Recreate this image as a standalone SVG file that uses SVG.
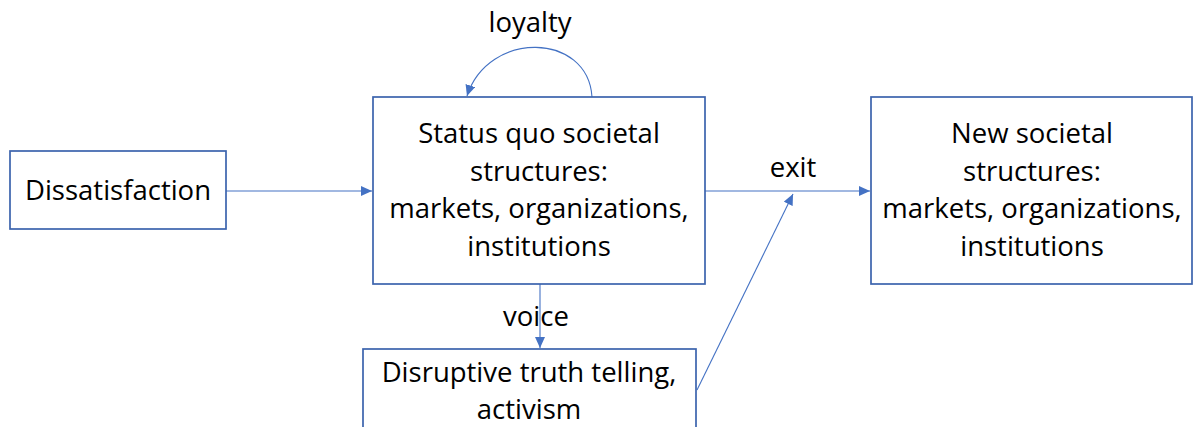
<svg xmlns="http://www.w3.org/2000/svg" width="1195" height="427" viewBox="0 0 1195 427">
  <style>
    .box { fill: #ffffff; stroke: #3b63ad; stroke-width: 1.7; }
    .lbl { font-family: "Open Sans", "Liberation Sans", sans-serif; font-size: 27.5px; fill: #000000; text-anchor: middle; }
    .link { fill: none; stroke: #4472c4; stroke-width: 1.1; }
  </style>
  <defs>
    <marker id="arrow" markerUnits="userSpaceOnUse" markerWidth="12" markerHeight="10" refX="11" refY="5" orient="auto">
      <path d="M0,0 L11,5 L0,10 Z" fill="#4472c4"/>
    </marker>
  </defs>

  <rect width="1195" height="427" fill="#ffffff"/>

  <!-- connectors -->
  <g id="connectors">
    <line class="link" x1="226" y1="191" x2="372" y2="191" marker-end="url(#arrow)"/>
    <line class="link" x1="705" y1="191" x2="870" y2="191" marker-end="url(#arrow)"/>
    <line class="link" x1="540" y1="284" x2="540" y2="348" marker-end="url(#arrow)"/>
    <line class="link" x1="697" y1="390" x2="793" y2="194" marker-end="url(#arrow)"/>
    <path class="link" d="M592,97 C588,32 488,30 467,96" marker-end="url(#arrow)"/>
    <text class="lbl" x="530" y="32">loyalty</text>
    <text class="lbl" x="793" y="177">exit</text>
    <text class="lbl" x="536" y="326">voice</text>
  </g>

  <!-- nodes -->
  <g id="dissatisfaction">
    <rect class="box" x="10" y="151" width="216" height="78"/>
    <text class="lbl" x="118" y="200">Dissatisfaction</text>
  </g>

  <g id="status-quo">
    <rect class="box" x="373" y="97" width="332" height="187"/>
    <text class="lbl" x="539" y="143">Status quo societal</text>
    <text class="lbl" x="539" y="181">structures:</text>
    <text class="lbl" x="539" y="218">markets, organizations,</text>
    <text class="lbl" x="539" y="256">institutions</text>
  </g>

  <g id="new-structures">
    <rect class="box" x="871" y="97" width="321" height="187"/>
    <text class="lbl" x="1032" y="143">New societal</text>
    <text class="lbl" x="1032" y="181">structures:</text>
    <text class="lbl" x="1032" y="218">markets, organizations,</text>
    <text class="lbl" x="1032" y="256">institutions</text>
  </g>

  <g id="disruptive">
    <rect class="box" x="363" y="349" width="333" height="100"/>
    <text class="lbl" x="529" y="382">Disruptive truth telling,</text>
    <text class="lbl" x="529" y="419">activism</text>
  </g>
</svg>
